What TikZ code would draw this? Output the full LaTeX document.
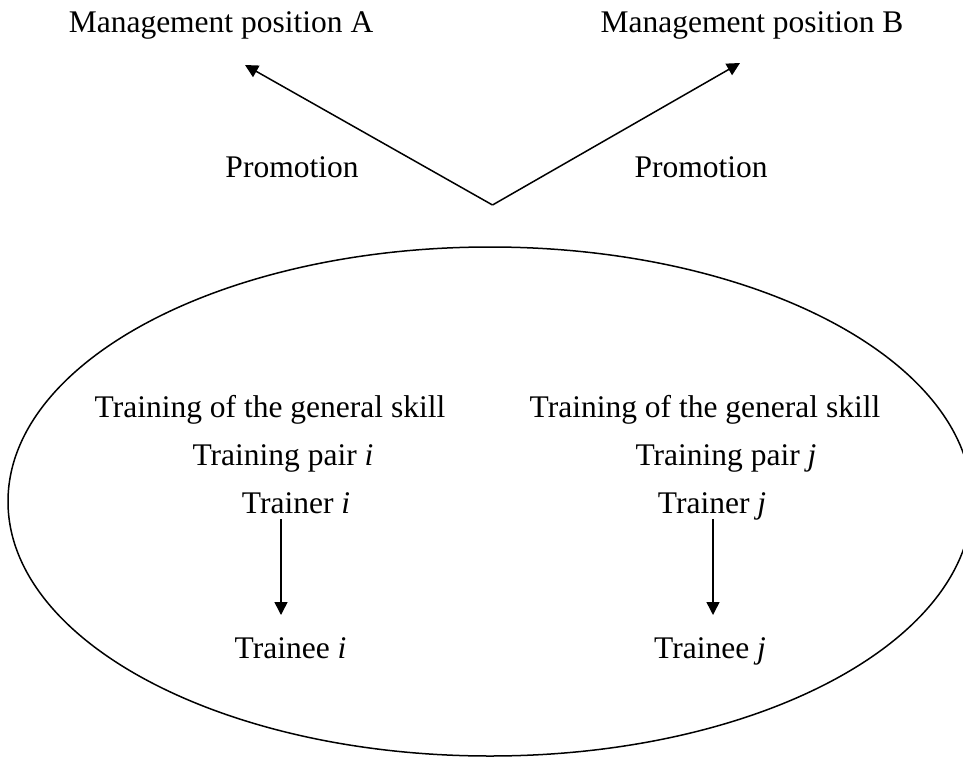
\documentclass[tikz,border=0pt]{standalone}
\usepackage{fontspec}
\setmainfont{Liberation Serif}
\usetikzlibrary{arrows.meta}
\begin{document}
\begin{tikzpicture}[x=1pt,y=-1pt,
  lbl/.style={anchor=base, inner sep=0pt, font=\fontsize{31.5}{37}\selectfont},
  conn/.style={line width=1.5pt, -{Triangle[width=13pt,length=13pt]}},
  ring/.style={line width=1.5pt}]
\useasboundingbox (0,0) rectangle (963,757);
\clip (0,0) rectangle (963,757);
% top labels
\node[lbl] (mgA) at (221,33) {Management position A};
\node[lbl] (mgB) at (752,33) {Management position B};
\node[lbl] (promA) at (292,177) {Promotion};
\node[lbl] (promB) at (701,177) {Promotion};
% promotion arrows
\coordinate (v) at (492.5,205);
\coordinate (tipA) at (245,65);
\coordinate (tipB) at (740,63);
\draw[conn] (v) -- (tipA);
\draw[conn] (v) -- (tipB);
% ellipse
\node[draw=none, inner sep=0pt, minimum width=964pt, minimum height=509pt] (pool) at (490,501.5) {};
\draw[ring] (pool.center) ellipse [x radius=482, y radius=254.5];
% left pair
\node[lbl] (genA) at (270,417) {Training of the general skill};
\node[lbl] (pairI) at (283,465) {Training pair \textit{i}};
\node[lbl] (trainerI) at (296,513) {Trainer \textit{i}};
\node[lbl] (traineeI) at (290.5,658) {Trainee \textit{i}};
\coordinate (iTop) at (281,519);
\coordinate (iBot) at (281,615);
\draw[conn] (iTop) -- (iBot);
% right pair
\node[lbl] (genB) at (705,417) {Training of the general skill};
\node[lbl] (pairJ) at (726,465) {Training pair \textit{j}};
\node[lbl] (trainerJ) at (712,513) {Trainer \textit{j}};
\node[lbl] (traineeJ) at (710,658) {Trainee \textit{j}};
\coordinate (jTop) at (713,519);
\coordinate (jBot) at (713,615);
\draw[conn] (jTop) -- (jBot);
\end{tikzpicture}
\end{document}
